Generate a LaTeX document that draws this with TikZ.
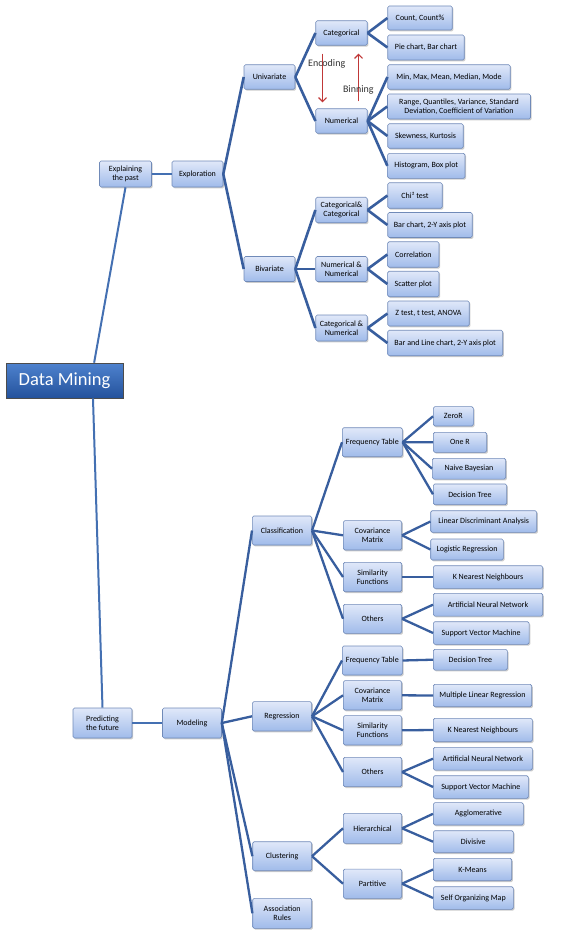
\documentclass[tikz,border=0pt]{standalone}
\usepackage{fontspec}
\setmainfont{Carlito}
\usepackage{tikz}
\usetikzlibrary{arrows.meta,shadows}
\definecolor{linkblue}{RGB}{56,94,158}
\definecolor{mainblue}{RGB}{68,112,178}
\definecolor{boxtop}{RGB}{224,232,249}
\definecolor{boxbot}{RGB}{160,187,234}
\definecolor{boxline}{RGB}{112,138,184}
\definecolor{dmtop}{RGB}{78,130,206}
\definecolor{dmbot}{RGB}{36,82,156}
\definecolor{arrowred}{RGB}{192,56,56}
\tikzstyle{box}=[draw=boxline,line width=0.6pt,rounded corners=1.5pt,top color=boxtop,bottom color=boxbot,
  drop shadow={shadow xshift=1.2pt,shadow yshift=-1.4pt,fill=black!40},
  inner sep=1pt,align=center,text=black,font=\fontsize{8}{9.3}\selectfont]
\tikzstyle{root}=[draw=black!70,line width=0.6pt,top color=dmtop,bottom color=dmbot,
  drop shadow={shadow xshift=1pt,shadow yshift=-1pt,fill=black!30},
  text=white,font=\fontsize{18.5}{20}\selectfont,minimum width=117pt,minimum height=35pt]
\tikzstyle{link}=[draw=linkblue,line width=2.6pt]
\tikzstyle{mainlink}=[draw=mainblue,line width=2pt]
\tikzstyle{conv}=[draw=arrowred,line width=1.2pt,-{Straight Barb[length=4pt,width=8pt]}]
\tikzstyle{convlabel}=[text=black!80,font=\fontsize{10}{11}\selectfont]

\begin{document}
\begin{tikzpicture}[x=1pt,y=-1pt]
  \useasboundingbox (0,0) rectangle (562,931);

  % root and first levels
  \node [root] (dm) at (64.5,380.5) {Data Mining};
  \node [box,minimum width=52pt,minimum height=26pt] (past) at (125.5,174) {Explaining\\the past};
  \node [box,minimum width=51pt,minimum height=26pt] (explo) at (197.5,174) {Exploration};
  \node [box,minimum width=59pt,minimum height=30pt] (future) at (102.5,723) {Predicting\\the future};
  \node [box,minimum width=59pt,minimum height=30pt] (model) at (192,723) {Modeling};

  % exploration
  \node [box,minimum width=51pt,minimum height=24.5pt] (uni) at (269.5,77) {Univariate};
  \node [box,minimum width=51pt,minimum height=25pt] (biv) at (269.5,269) {Bivariate};
  \node [box,minimum width=51.5pt,minimum height=24.5pt] (cat) at (341.5,33) {Categorical};
  \node [box,minimum width=51.5pt,minimum height=24.5pt] (num) at (341.5,121) {Numerical};
  \node [box,minimum width=51.5pt,minimum height=25.5pt] (catcat) at (341.5,210) {Categorical\&\\Categorical};
  \node [box,minimum width=51.5pt,minimum height=25pt] (numnum) at (341.5,269) {Numerical \&\\Numerical};
  \node [box,minimum width=51.5pt,minimum height=26pt] (catnum) at (341.5,328) {Categorical \&\\Numerical};

  \node [box,minimum width=64.5pt,minimum height=24pt] (count) at (420,18) {Count, Count\%};
  \node [box,minimum width=76.5pt,minimum height=25pt] (pie) at (426,47.5) {Pie chart, Bar chart};
  \node [box,minimum width=122.5pt,minimum height=24.5pt] (minmax) at (449,77) {Min, Max, Mean, Median, Mode};
  \node [box,minimum width=143pt,minimum height=25pt] (range) at (459,106.5) {Range, Quantiles, Variance, Standard\\Deviation, Coefficient of Variation};
  \node [box,minimum width=75.5pt,minimum height=24.5pt] (skew) at (425.5,136) {Skewness, Kurtosis};
  \node [box,minimum width=77.3pt,minimum height=25pt] (hist) at (426.3,165.8) {Histogram, Box plot};
  \node [box,minimum width=54.5pt,minimum height=25.5pt] (chi) at (415,195.5) {Chi² test};
  \node [box,minimum width=84.5pt,minimum height=25pt] (barchart) at (430,225) {Bar chart, 2-Y axis plot};
  \node [box,minimum width=51.3pt,minimum height=25.5pt] (corr) at (413.3,254.5) {Correlation};
  \node [box,minimum width=51.3pt,minimum height=25.5pt] (scatter) at (413.3,284) {Scatter plot};
  \node [box,minimum width=81.5pt,minimum height=25pt] (ztest) at (428.5,313.5) {Z test, t test, ANOVA};
  \node [box,minimum width=115pt,minimum height=25.5pt] (barline) at (445.2,343) {Bar and Line chart, 2-Y axis plot};

  % modeling
  \node [box,minimum width=59.4pt,minimum height=29pt] (clas) at (282,530.5) {Classification};
  \node [box,minimum width=59.4pt,minimum height=29.3pt] (reg) at (282,716.3) {Regression};
  \node [box,minimum width=59pt,minimum height=29pt] (clus) at (282.2,856.2) {Clustering};
  \node [box,minimum width=59pt,minimum height=30pt] (assoc) at (282.2,913.3) {Association\\Rules};

  \node [box,minimum width=60pt,minimum height=29pt] (cfreq) at (372.3,442.2) {Frequency Table};
  \node [box,minimum width=58.4pt,minimum height=29.3pt] (ccov) at (372.5,535.3) {Covariance\\Matrix};
  \node [box,minimum width=58.4pt,minimum height=29.4pt] (csim) at (372.5,577) {Similarity\\Functions};
  \node [box,minimum width=58.4pt,minimum height=29pt] (coth) at (372.5,618.8) {Others};
  \node [box,minimum width=60pt,minimum height=29pt] (rfreq) at (372.3,660.5) {Frequency Table};
  \node [box,minimum width=58.4pt,minimum height=29.3pt] (rcov) at (372.5,695.3) {Covariance\\Matrix};
  \node [box,minimum width=58.4pt,minimum height=29.3pt] (rsim) at (372.5,730.3) {Similarity\\Functions};
  \node [box,minimum width=58.4pt,minimum height=29.3pt] (roth) at (372.5,772) {Others};
  \node [box,minimum width=58.4pt,minimum height=30pt] (hier) at (372.5,828.3) {Hierarchical};
  \node [box,minimum width=58.4pt,minimum height=29.3pt] (part) at (372.5,883.7) {Partitive};

  \node [box,minimum width=40pt,minimum height=19.3pt] (zeror) at (453.3,416.3) {ZeroR};
  \node [box,minimum width=53.4pt,minimum height=20pt] (oner) at (460,442.3) {One R};
  \node [box,minimum width=73.4pt,minimum height=20.7pt] (naive) at (469,468.7) {Naive Bayesian};
  \node [box,minimum width=73.4pt,minimum height=20.7pt] (cdtree) at (470,494.3) {Decision Tree};
  \node [box,minimum width=106pt,minimum height=21.6pt] (lda) at (483.7,521.5) {Linear Discriminant Analysis};
  \node [box,minimum width=72.6pt,minimum height=21pt] (logreg) at (467,549.5) {Logistic Regression};
  \node [box,minimum width=109.4pt,minimum height=22.6pt] (cknn) at (488,577) {K Nearest Neighbours};
  \node [box,minimum width=109.4pt,minimum height=22.7pt] (cann) at (488,604.7) {Artificial Neural Network};
  \node [box,minimum width=95.7pt,minimum height=22.6pt] (csvm) at (481.2,633) {Support Vector Machine};
  \node [box,minimum width=74pt,minimum height=20.7pt] (rdtree) at (470.3,659.7) {Decision Tree};
  \node [box,minimum width=98.4pt,minimum height=22.4pt] (mlr) at (482.5,695.5) {Multiple Linear Regression};
  \node [box,minimum width=99pt,minimum height=23.4pt] (rknn) at (482.8,730) {K Nearest Neighbours};
  \node [box,minimum width=99pt,minimum height=22.7pt] (rann) at (482.8,758.7) {Artificial Neural Network};
  \node [box,minimum width=95pt,minimum height=22.6pt] (rsvm) at (480.8,787) {Support Vector Machine};
  \node [box,minimum width=90pt,minimum height=22.3pt] (aggl) at (478.3,813.8) {Agglomerative};
  \node [box,minimum width=80pt,minimum height=22pt] (divis) at (473.3,841.7) {Divisive};
  \node [box,minimum width=78.4pt,minimum height=22.4pt] (kmeans) at (472.5,869.5) {K-Means};
  \node [box,minimum width=80pt,minimum height=22.6pt] (som) at (473.3,898) {Self Organizing Map};

  % connectors
  \draw [mainlink] (past.south) -- (dm.31.5);
  \draw [mainlink] (dm.-32.5) -- (future.north);
  \draw [mainlink] (past.east) -- (explo.west);
  \draw [mainlink] (future.east) -- (model.west);
  \foreach \a/\b in {explo/uni,explo/biv,uni/cat,uni/num,biv/catcat,biv/numnum,biv/catnum,
      cat/count,cat/pie,num/minmax,num/range,num/skew,num/hist,catcat/chi,catcat/barchart,
      numnum/corr,numnum/scatter,catnum/ztest,catnum/barline}
    \draw [link] (\a.east) -- (\b.west);
  \foreach \a/\b in {model/clas,model/reg,model/clus,model/assoc,
      clas/cfreq,clas/ccov,clas/csim,clas/coth,reg/rfreq,reg/rcov,reg/rsim,reg/roth,clus/hier,clus/part,
      cfreq/zeror,cfreq/oner,cfreq/naive,cfreq/cdtree,ccov/lda,ccov/logreg,csim/cknn,coth/cann,coth/csvm,
      rfreq/rdtree,rcov/mlr,rsim/rknn,roth/rann,roth/rsvm,hier/aggl,hier/divis,part/kmeans,part/som}
    \draw [link,line width=2.3pt] (\a.east) -- (\b.west);

  % encoding and binning
  \draw [conv] ([xshift=-19pt,yshift=-8pt]cat.south) -- ([xshift=-19pt,yshift=6pt]num.north);
  \draw [conv] ([xshift=17pt,yshift=7pt]num.north) -- ([xshift=17pt,yshift=-8pt]cat.south);
  \node [convlabel] (enc) at (326.7,64.3) {Encoding};
  \node [convlabel] (bin) at (358.3,90) {Binning};
\end{tikzpicture}
\end{document}
